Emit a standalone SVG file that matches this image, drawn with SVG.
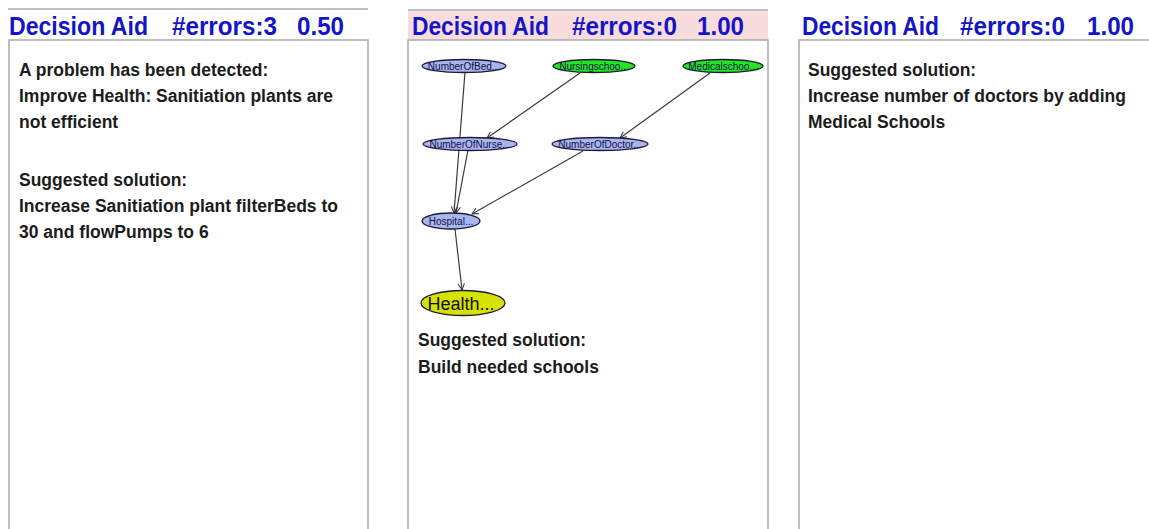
<svg xmlns="http://www.w3.org/2000/svg" width="1149" height="529" viewBox="0 0 1149 529">
  <defs>
    <style>
      .hdr { font-family: "Liberation Sans", Arial, sans-serif; font-weight: bold; font-size: 25px; fill: #1414c8; }
      .body { font-family: "Liberation Sans", Arial, sans-serif; font-weight: bold; font-size: 17.5px; fill: #1c1c1c; }
      .box { fill: #ffffff; stroke: #a4acb4; stroke-width: 1.5; }
      .rule { stroke: #a4acb4; stroke-width: 1.5; }
      .node { stroke: #1a1a3a; stroke-width: 1.3; }
      .blue { fill: #a9b5ec; }
      .green { fill: #22e622; }
      .yellow { fill: #d6e200; }
      .lbl { font-family: "Liberation Sans", Arial, sans-serif; font-size: 10px; fill: #10104a; text-anchor: middle; }
      .big { font-family: "Liberation Sans", Arial, sans-serif; font-size: 18px; fill: #111111; text-anchor: middle; }
      .edge { stroke: #3a3a3a; stroke-width: 1.2; fill: none; marker-end: url(#arr); }
    </style>
    <marker id="arr" viewBox="0 0 10 10" refX="9" refY="5" markerWidth="8" markerHeight="8" orient="auto" markerUnits="userSpaceOnUse">
      <path d="M1,1 L9,5 L1,9" fill="none" stroke="#3a3a3a" stroke-width="1.3"/>
    </marker>
  </defs>

  <rect width="1149" height="529" fill="#ffffff"/>

  <!-- left panel -->
  <g id="panel1">
    <line class="rule" x1="8" y1="9" x2="368" y2="9"/>
    <rect class="box" x="9" y="40" width="359" height="500"/>
    <text class="hdr" x="9" y="35" textLength="139" lengthAdjust="spacingAndGlyphs">Decision Aid</text>
    <text class="hdr" x="172" y="35" textLength="105" lengthAdjust="spacingAndGlyphs">#errors:3</text>
    <text class="hdr" x="297" y="35" textLength="47" lengthAdjust="spacingAndGlyphs">0.50</text>
    <text class="body" x="19" y="76">A problem has been detected:</text>
    <text class="body" x="19" y="102">Improve Health: Sanitiation plants are</text>
    <text class="body" x="19" y="128">not efficient</text>
    <text class="body" x="19" y="186">Suggested solution:</text>
    <text class="body" x="19" y="212">Increase Sanitiation plant filterBeds to</text>
    <text class="body" x="19" y="238">30 and flowPumps to 6</text>
  </g>

  <!-- middle panel -->
  <g id="panel2">
    <line class="rule" x1="408" y1="10" x2="768" y2="10"/>
    <rect x="408" y="11" width="360" height="29" fill="#f9dcdc"/>
    <rect class="box" x="408" y="40" width="360" height="500"/>
    <text class="hdr" x="412" y="35" textLength="137" lengthAdjust="spacingAndGlyphs">Decision Aid</text>
    <text class="hdr" x="572" y="35" textLength="105" lengthAdjust="spacingAndGlyphs">#errors:0</text>
    <text class="hdr" x="697" y="35" textLength="47" lengthAdjust="spacingAndGlyphs">1.00</text>
    <text class="body" x="418" y="346">Suggested solution:</text>
    <text class="body" x="418" y="373">Build needed schools</text>
  </g>

  <!-- right panel -->
  <g id="panel3">
    <rect class="box" x="799" y="40" width="360" height="500"/>
    <text class="hdr" x="802" y="35" textLength="137" lengthAdjust="spacingAndGlyphs">Decision Aid</text>
    <text class="hdr" x="960" y="35" textLength="105" lengthAdjust="spacingAndGlyphs">#errors:0</text>
    <text class="hdr" x="1087" y="35" textLength="47" lengthAdjust="spacingAndGlyphs">1.00</text>
    <text class="body" x="808" y="76">Suggested solution:</text>
    <text class="body" x="808" y="102">Increase number of doctors by adding</text>
    <text class="body" x="808" y="128">Medical Schools</text>
  </g>

  <!-- connectors of the network -->
  <g id="connectors">
    <line class="edge" x1="465" y1="72" x2="454" y2="213"/>
    <line class="edge" x1="468" y1="150" x2="456" y2="213"/>
    <line class="edge" x1="583" y1="151" x2="472" y2="214"/>
    <line class="edge" x1="580" y1="73" x2="487" y2="138"/>
    <line class="edge" x1="710" y1="73" x2="620" y2="138"/>
    <line class="edge" x1="455" y1="229" x2="462" y2="290"/>
  </g>

  <g id="node-beds">
    <ellipse class="node blue" cx="464" cy="66" rx="42" ry="6.5"/>
    <text class="lbl" x="464" y="69.5">NumberOfBed...</text>
  </g>
  <g id="node-nursing">
    <ellipse class="node green" cx="594" cy="66" rx="41" ry="6.5"/>
    <text class="lbl" x="594" y="69.5">Nursingschoo...</text>
  </g>
  <g id="node-medical">
    <ellipse class="node green" cx="723" cy="66" rx="40" ry="6.5"/>
    <text class="lbl" x="723" y="69.5">Medicalschoo...</text>
  </g>
  <g id="node-nurses">
    <ellipse class="node blue" cx="470" cy="144" rx="47" ry="6.5"/>
    <text class="lbl" x="470" y="147.5">NumberOfNurse...</text>
  </g>
  <g id="node-doctors">
    <ellipse class="node blue" cx="600" cy="144" rx="48" ry="6.5"/>
    <text class="lbl" x="600" y="147.5">NumberOfDoctor...</text>
  </g>
  <g id="node-hospital">
    <ellipse class="node blue" cx="451" cy="221" rx="29" ry="8"/>
    <text class="lbl" x="451" y="224.5">Hospital...</text>
  </g>
  <g id="node-health">
    <ellipse class="node yellow" cx="463" cy="303" rx="42" ry="12.5"/>
    <text class="big" x="461" y="309.5">Health...</text>
  </g>
</svg>
